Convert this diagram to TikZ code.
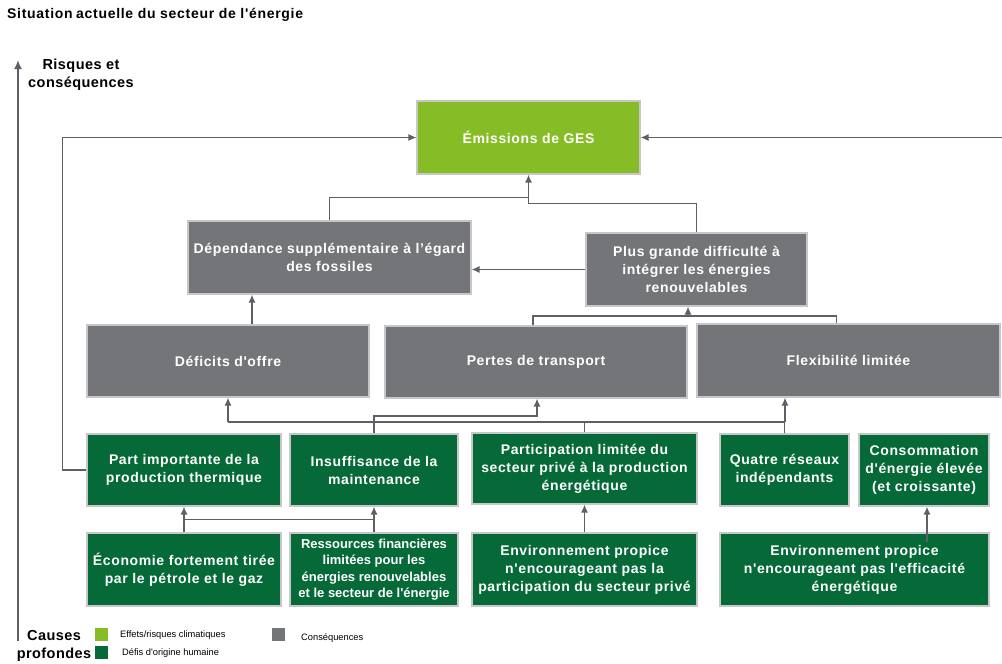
\documentclass[tikz,border=0pt]{standalone}
\usepackage{fontspec}
\setmainfont{Liberation Sans}[Ligatures=TeXOff]
\newfontfamily\spaced{Liberation Sans}[Ligatures=TeXOff, LetterSpace=4.5]
\newfontfamily\spacedt{Liberation Sans}[Ligatures=TeXOff, LetterSpace=5]
\newfontfamily\spacedl{Liberation Sans}[Ligatures=TeXOff, LetterSpace=3]
\usetikzlibrary{arrows.meta}
\definecolor{lgreen}{HTML}{86BC25}
\definecolor{dgreen}{HTML}{066A38}
\definecolor{cgray}{HTML}{737578}
\definecolor{bgray}{HTML}{C6C7C8}
\definecolor{lgray}{HTML}{5E6065}
\tikzset{
  box/.style={draw=bgray, line width=1.2pt, text=white, align=center, inner sep=0pt,
    font=\spaced\fontsize{14}{18}\selectfont\bfseries},
  gbox/.style={box, fill=cgray},
  dbox/.style={box, fill=dgreen},
  lbox/.style={box, fill=lgreen},
  conn/.style={draw=lgray, line width=1.3pt},
  arr/.style={conn, -{Latex[length=8pt,width=7pt]}},
  lab/.style={font=\spacedl\fontsize{14.5}{18}\selectfont\bfseries, align=center, inner sep=0pt},
  leg/.style={font=\fontsize{9.3}{11}\selectfont, anchor=west, inner sep=0pt},
}
\begin{document}
\begin{tikzpicture}[x=1pt,y=-1pt]
\useasboundingbox (0,0) rectangle (1002,664);
% title and axis
\node[anchor=west, inner sep=0pt, font=\spacedt\fontsize{14}{16}\selectfont\bfseries] (title) at (7,15) {Situation\hspace{3.5pt}actuelle du secteur de l'énergie};
\node[lab] (risk) at (81,75) {Risques et\\conséquences};
\node[lab] (cause) at (54,646) {Causes\\profondes};
\coordinate (axb) at (18,641);
\coordinate (axt) at (18,60);
\draw[draw=lgray, line width=2.6pt, -{Latex[length=9pt,width=8pt]}] (axb) -- (axt);
% boxes
\node[lbox, minimum width=223pt, minimum height=73pt] (ges) at (528.5,137.5) {Émissions de GES};
\node[gbox, minimum width=283pt, minimum height=73pt] (dep) at (329.5,257.5) {Dépendance supplémentaire à l’égard\\des fossiles};
\node[gbox, minimum width=221pt, minimum height=73pt] (plus) at (696.5,269.5) {Plus grande difficulté à\\intégrer les énergies\\renouvelables};
\node[gbox, minimum width=282pt, minimum height=72pt] (def) at (228,361) {Déficits d'offre};
\node[gbox, minimum width=302pt, minimum height=72pt] (pertes) at (536,362) {Pertes de transport};
\node[gbox, minimum width=303pt, minimum height=73pt] (flex) at (848.5,360.5) {Flexibilité limitée};
\node[dbox, minimum width=194pt, minimum height=72pt] (part) at (184,470) {Part importante de la\\production thermique};
\node[dbox, minimum width=168pt, minimum height=72pt] (insuf) at (374,470) {Insuffisance de la\\maintenance};
\node[dbox, minimum width=225pt, minimum height=71pt] (partic) at (584.5,468.5) {Participation limitée du\\secteur privé à la production\\énergétique};
\node[dbox, minimum width=129pt, minimum height=72pt] (quatre) at (784.5,470) {Quatre réseaux\\indépendants};
\node[dbox, minimum width=130pt, minimum height=72pt] (conso) at (924,470) {Consommation\\d'énergie élevée\\(et croissante)};
\node[dbox, minimum width=194pt, minimum height=73pt] (eco) at (184,569.5) {Économie fortement tirée\\par le pétrole et le gaz};
\node[dbox, minimum width=168pt, minimum height=73pt, font=\fontsize{13}{16.5}\selectfont\bfseries] (res) at (374,569.5) {Ressources financières\\limitées pour les\\énergies renouvelables\\et le secteur de l'énergie};
\node[dbox, minimum width=225pt, minimum height=73pt] (env1) at (584.5,569.5) {Environnement propice\\n'encourageant pas la\\participation du secteur privé};
\node[dbox, minimum width=269pt, minimum height=73pt] (env2) at (854.5,569.5) {Environnement propice\\n'encourageant pas l'efficacité\\énergétique};
% connectors top
\coordinate (rin) at (1002,137.5);
\draw[arr] (rin) -- (ges.east);
\draw[arr] (part.west) -- ++(-24,0) |- (ges.west);
\draw[arr] (dep.north) |- ([yshift=-23pt]ges.south) -- (ges.south);
\draw[conn] (plus.north) |- ([yshift=-29pt]ges.south) -- ([yshift=-23pt]ges.south);
\draw[arr] (plus.west) -- (plus.west -| dep.east);
\draw[arr] ([xshift=24pt]def.north) -- ([xshift=24pt]def.north |- dep.south);
% middle
\coordinate (j1) at (688,316);
\draw[conn] ([xshift=-3pt]pertes.north) |- (j1);
\draw[conn] ([xshift=-12pt]flex.north) |- (j1);
\draw[arr] (j1) -- (j1 |- plus.south);
\coordinate (j2) at (228,422);
\coordinate (j3) at (785,422);
\draw[conn] (j2) -- (j3);
\draw[arr] (j2) -- (j2 |- def.south);
\draw[arr] (j3) -- (j3 |- flex.south);
\draw[conn] (partic.north) -- (partic.north |- j2);
\draw[conn] (quatre.north) -- (quatre.north |- j3);
\coordinate (j4) at (537,416);
\draw[arr] (insuf.north) |- (j4) -- (j4 |- pertes.south);
% bottom
\draw[arr] (eco.north) -- (part.south);
\draw[arr] (res.north) -- (insuf.south);
\draw[conn] ([yshift=13pt]eco.north) -- ([yshift=13pt]res.north);
\draw[arr] (env1.north) -- (partic.south);
\draw[arr] ([xshift=3pt,yshift=-10pt]conso.south |- env2.north) -- ([xshift=3pt]conso.south);
% legend
\fill[lgreen] (95,628) rectangle (108,641);
\fill[dgreen] (95,646) rectangle (108,659);
\fill[cgray] (272,628) rectangle (285,641);
\node[leg] (l1) at (120,635) {Effets/risques climatiques};
\node[leg] (l2) at (122,653) {Défis d'origine humaine};
\node[leg] (l3) at (301,638) {Conséquences};
\end{tikzpicture}
\end{document}
